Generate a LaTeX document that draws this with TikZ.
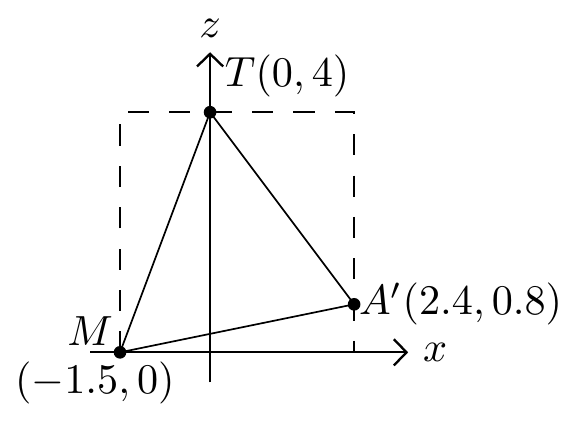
\documentclass[tikz,border=0pt]{standalone}
\usepackage{tikz}
\usetikzlibrary{arrows.meta}

\begin{document}
\begin{tikzpicture}[x=0.5cm,y=0.5cm,>={Straight Barb[length=3pt,width=6.2pt,line width=0.55pt]}]
    \useasboundingbox (-3.5,-1.13) rectangle (5.93,5.87);
    %\draw[very thin,color=gray] (-2,-1) grid (5,5);
    \draw[->] (-2,0) -- (3.3,0) node[right] (xlab) {$x$};
    \draw[->] (0,-0.5) -- (0,5) node[above] (zlab) {$z$};
    \coordinate (M) at (-1.5,0);
    \coordinate (T) at (0,4);
    \coordinate (A) at (2.4,0.8);
    \draw [black, dash pattern=on 5pt off 4.8pt] (M) -- (-1.5,4) -- (2.4,4) -- (2.4,0);
    \draw [black] (M) -- (T) -- (A) -- cycle;
    \fill (M) circle (1.5pt);
    \fill (T) circle (1.5pt);
    \fill (A) circle (1.5pt);
    \node[above right] (Tlab) at (T) {$T(0,4)$};
    \node[right, inner sep=1pt] (Alab) at (A) {$A'(2.4,0.8)$};
    \node[above left, inner sep=1.5pt] (Mlab) at (M) {$M$};
    \node[below, inner sep=2pt] (Mcoord) at (-1.92,0) {$(-1.5,0)$};

\end{tikzpicture}
\end{document}
